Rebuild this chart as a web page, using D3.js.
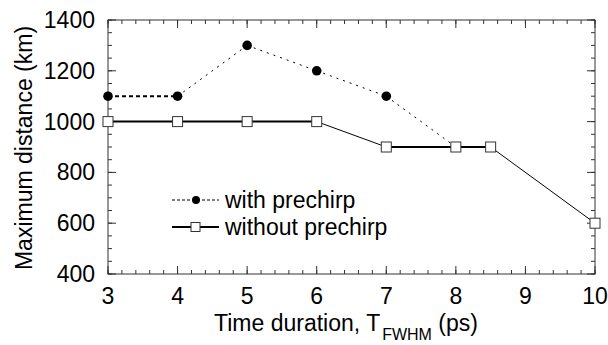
<!DOCTYPE html>
<html>
<head>
<meta charset="utf-8">
<script src="https://cdn.jsdelivr.net/npm/d3@7"></script>
<style>
  body { margin: 0; background: #fff; }
  text { font-family: "Liberation Sans", Arial, sans-serif; fill: #000; }
</style>
</head>
<body>
<div id="chart"></div>
<script>
// data
const withX = [3, 4, 5, 6, 7, 8];
const withY = [1100, 1100, 1300, 1200, 1100, 900];
const withoutX = [3, 4, 5, 6, 7, 8, 8.5, 10];
const withoutY = [1000, 1000, 1000, 1000, 900, 900, 900, 600];
const xTicks = [3, 4, 5, 6, 7, 8, 9, 10];
const yTicks = [400, 600, 800, 1000, 1200, 1400];
const legendLabels = ["with prechirp", "without prechirp"];

const W = 608, H = 345;
const margin = {top: 20, right: 13, bottom: 71, left: 108};
const width = W - margin.left - margin.right;
const height = H - margin.top - margin.bottom;

const svg = d3.select("#chart").append("svg")
    .attr("width", W).attr("height", H);
const g = svg.append("g")
    .attr("transform", "translate(" + margin.left + "," + margin.top + ")");

const x = d3.scaleLinear().domain([3, 10]).range([0, width]);
const y = d3.scaleLinear().domain([400, 1400]).range([height, 0]);

// frame
g.append("rect")
    .attr("width", width).attr("height", height)
    .attr("fill", "none").attr("stroke", "#333").attr("stroke-width", 1);

// ticks, inward on all sides
const xMinor = d3.range(3, 10.001, 0.2);
const yMinor = d3.range(400, 1400.001, 50);
function tickLines(vals, isX, len) {
    vals.forEach(v => {
        if (isX) {
            const px = x(v);
            g.append("line").attr("x1", px).attr("x2", px).attr("y1", height).attr("y2", height - len)
                .attr("stroke", "#333");
            g.append("line").attr("x1", px).attr("x2", px).attr("y1", 0).attr("y2", len)
                .attr("stroke", "#333");
        } else {
            const py = y(v);
            g.append("line").attr("x1", 0).attr("x2", len).attr("y1", py).attr("y2", py)
                .attr("stroke", "#333");
            g.append("line").attr("x1", width).attr("x2", width - len).attr("y1", py).attr("y2", py)
                .attr("stroke", "#333");
        }
    });
}
tickLines(xMinor, true, 4);
tickLines(xTicks, true, 8);
tickLines(yMinor, false, 4);
tickLines(yTicks, false, 8);

// axis labels
g.selectAll(".xl").data(xTicks).enter().append("text")
    .attr("x", d => x(d)).attr("y", height + 30)
    .attr("text-anchor", "middle").style("font-size", "23px")
    .text(d => d);
g.selectAll(".yl").data(yTicks).enter().append("text")
    .attr("x", -13).attr("y", d => y(d) + 8)
    .attr("text-anchor", "end").style("font-size", "23px")
    .text(d => d);

// axis titles
const xt = svg.append("text")
    .attr("x", 214).attr("y", 331)
    .style("font-size", "23px");
xt.append("tspan").text("Time duration, T");
xt.append("tspan").attr("dx", 2).attr("dy", 9).style("font-size", "16px").text("FWHM");
xt.append("tspan").attr("dy", -9).text(" (ps)");

svg.append("text")
    .attr("transform", "translate(32," + (margin.top + height / 2 + 1) + ") rotate(-90)")
    .attr("text-anchor", "middle").style("font-size", "23px")
    .text("Maximum distance (km)");

// segments: horizontal ones render heavier in the original
function drawSeries(xs, ys, dash) {
    for (let i = 0; i < xs.length - 1; i++) {
        const flat = ys[i] === ys[i + 1];
        g.append("line")
            .attr("x1", x(xs[i])).attr("y1", y(ys[i]))
            .attr("x2", x(xs[i + 1])).attr("y2", y(ys[i + 1]))
            .attr("stroke", "#000")
            .attr("stroke-width", flat ? 2 : 1)
            .attr("stroke-dasharray", dash ? (flat ? "4 3" : "2 5") : null);
    }
}
drawSeries(withX, withY, true);
drawSeries(withoutX, withoutY, false);

g.selectAll(".dot").data(withX).enter().append("circle")
    .attr("cx", d => x(d)).attr("cy", (d, i) => y(withY[i]))
    .attr("r", 4.8).attr("fill", "#000");
g.selectAll(".sq").data(withoutX).enter().append("rect")
    .attr("x", d => x(d) - 5).attr("y", (d, i) => y(withoutY[i]) - 5)
    .attr("width", 10).attr("height", 10)
    .attr("fill", "#fff").attr("stroke", "#333").attr("stroke-width", 1);

// legend
const leg = svg.append("g");
legendLabels.forEach((lab, i) => {
    const ly = 200 + i * 27;
    leg.append("line").attr("x1", 172).attr("x2", 219).attr("y1", ly).attr("y2", ly)
        .attr("stroke", "#000")
        .attr("stroke-width", i === 0 ? 1 : 2)
        .attr("stroke-dasharray", i === 0 ? "3 2" : null);
    if (i === 0) {
        leg.append("circle").attr("cx", 196).attr("cy", ly).attr("r", 4).attr("fill", "#000");
    } else {
        leg.append("rect").attr("x", 191).attr("y", ly - 4.5).attr("width", 9).attr("height", 9)
            .attr("fill", "#fff").attr("stroke", "#333");
    }
    leg.append("text").attr("x", 225).attr("y", ly + 8)
        .style("font-size", "23px").text(lab);
});
</script>
</body>
</html>
